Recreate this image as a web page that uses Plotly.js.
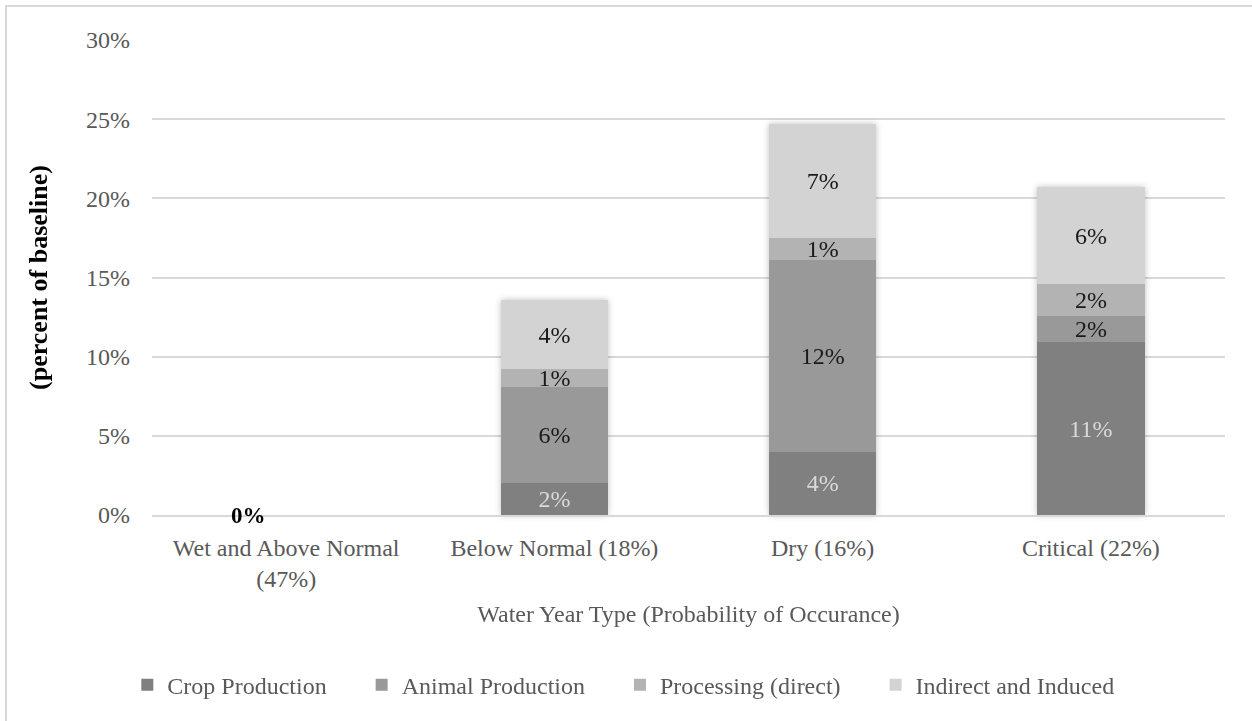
<!DOCTYPE html>
<html>
<head>
<meta charset="utf-8">
<script src="https://cdn.plot.ly/plotly-3.0.1.min.js"></script>
<style>
  html, body { margin: 0; padding: 0; background: #fff; }
  #wrap { position: relative; width: 1252px; height: 721px; overflow: hidden; }
  #frame { position: absolute; left: 5px; top: 5px; width: 1300px; height: 800px;
           border-top: 2px solid #d9d9d9; border-left: 2px solid #d9d9d9; pointer-events: none; }
  #chart { position: absolute; left: 0; top: 0; width: 1252px; height: 721px; }
  .barlayer { filter: drop-shadow(0px 0px 3px rgba(0,0,0,0.25)); }
</style>
</head>
<body>
<div id="wrap">
  <div id="chart"></div>
  <div id="frame"></div>
</div>
<script>
const categories = ["Wet and Above Normal<br>(47%)", "Below Normal (18%)", "Dry (16%)", "Critical (22%)"];
const cropProduction   = [0, 2.0, 4.0, 10.9];
const animalProduction = [0, 6.1, 12.1, 1.7];
const processingDirect = [0, 1.1, 1.4, 2.0];
const indirectInduced  = [0, 4.4, 7.2, 6.1];
const seriesNames = ["Crop Production", "Animal Production", "Processing (direct)", "Indirect and Induced"];
const seriesColors = ["#808080", "#999999", "#b3b3b3", "#d3d3d3"];

const serif = "Liberation Serif, Times New Roman, serif";
const allSeries = [cropProduction, animalProduction, processingDirect, indirectInduced];
const pad = "\u00a0\u00a0\u00a0\u00a0\u00a0";

const traces = allSeries.map((vals, i) => {
  const isCrop = i === 0;
  return {
    type: "bar",
    name: seriesNames[i] + pad,
    x: categories,
    y: vals,
    marker: { color: seriesColors[i], line: { width: 0 } },
    text: vals.map(v => v === 0 ? "" : Math.round(v) + "%"),
    textposition: "inside",
    insidetextanchor: "middle",
    constraintext: "none",
    cliponaxis: false,
    insidetextfont: { family: serif, size: 24, color: isCrop ? "#d9d9d9" : "#1a1a1a" },
    hoverinfo: "skip"
  };
});

// "0%" labels for categories whose total is zero
const totals = categories.map((c, k) => allSeries.reduce((s, arr) => s + arr[k], 0));
const annotations = categories
  .map((c, k) => ({ c, t: totals[k] }))
  .filter(o => o.t === 0)
  .map(o => ({
    x: o.c, y: 0, xref: "x", yref: "y",
    text: "<b>" + Math.round(o.t) + "%</b>",
    showarrow: false, xshift: -38, yshift: 0,
    font: { family: serif, size: 23, color: "#000000" }
  }));

const layout = {
  width: 1252, height: 721,
  margin: { l: 152, r: 27, t: 40, b: 206 },
  paper_bgcolor: "rgba(0,0,0,0)",
  plot_bgcolor: "#ffffff",
  barmode: "stack",
  bargap: 0.6,
  font: { family: serif, color: "#595959", size: 23 },
  annotations: annotations,
  xaxis: {
    type: "category",
    showline: true, linecolor: "#d9d9d9", linewidth: 2,
    ticks: "", tickfont: { family: serif, size: 24, color: "#595959" },
    ticklabelstandoff: 10,
    title: { text: "Water Year Type (Probability of Occurance)", font: { family: serif, size: 24, color: "#595959" }, standoff: 14 }
  },
  yaxis: {
    range: [0, 30], dtick: 5, ticksuffix: "%",
    showgrid: true, gridcolor: "#d9d9d9", gridwidth: 2,
    zeroline: false, showline: false, ticks: "",
    tickfont: { family: serif, size: 24, color: "#595959" },
    ticklabelstandoff: 21,
    title: { text: "<b>(percent of baseline)</b>", font: { family: serif, size: 26, color: "#000000" }, standoff: 30 }
  },
  legend: {
    orientation: "h", x: -0.023, xanchor: "left", y: -0.358, yanchor: "middle",
    font: { family: serif, size: 24, color: "#595959" },
    traceorder: "normal"
  },
  showlegend: true
};

Plotly.newPlot("chart", traces, layout, { displayModeBar: false, staticPlot: true });
</script>
</body>
</html>
